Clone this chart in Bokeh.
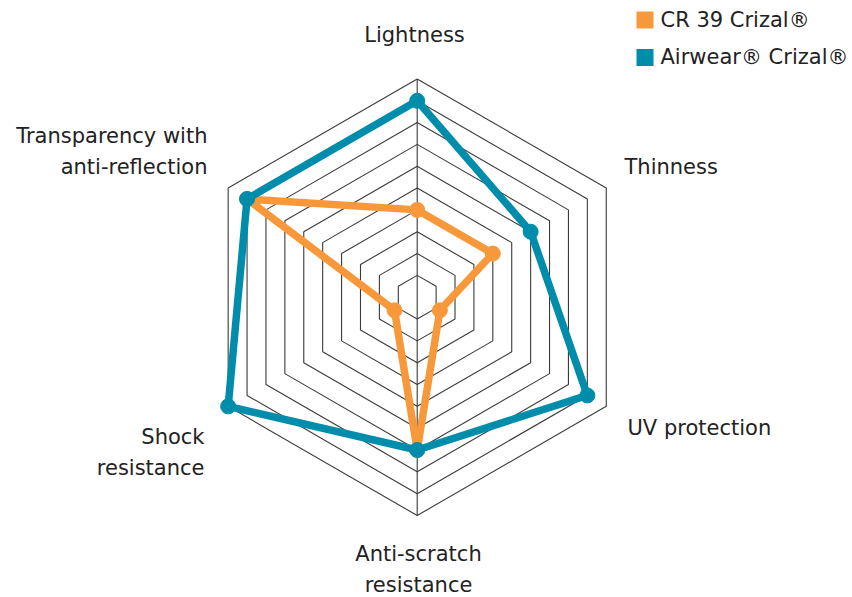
import math
from bokeh.plotting import figure
from bokeh.models import Range1d
from bokeh.core.properties import value
from bokeh.embed import file_html
from bokeh.resources import INLINE

# ---- data ----
axes_labels = ["Lightness", "Thinness", "UV protection", "Anti-scratch\nresistance",
               "Shock\nresistance", "Transparency with\nanti-reflection"]
cr39_values = [4, 4, 1.2, 7, 1.2, 9]
airwear_values = [9, 6, 9, 7, 10, 9]
series_names = ["CR 39 Crizal®", "Airwear® Crizal®"]
ring_levels = list(range(1, 11))

# ---- layout constants (screen pixels) ----
W, H = 852, 597
CX, CY = 416.7, 296.7           # centre in canvas px
UNIT = 21.83                     # px per ring

ORANGE = "#F7993B"
TEAL = "#008DAC"
GRID = "#3a3a3a"
FONT = "DejaVu Sans"
FSIZE = "21px"

p = figure(width=W, height=H, output_backend="svg", toolbar_location=None,
           x_range=Range1d(-CX / UNIT, (W - CX) / UNIT),
           y_range=Range1d(-(H - CY) / UNIT, CY / UNIT),
           min_border=0, outline_line_color=None)
p.axis.visible = False
p.grid.visible = False

angles = [math.radians(90 - 60 * i) for i in range(6)]

def pt(r, a):
    return r * math.cos(a), r * math.sin(a)

# hexagon rings
xs, ys = [], []
for lv in ring_levels:
    ring = [pt(lv, a) for a in angles] + [pt(lv, angles[0])]
    xs.append([q[0] for q in ring])
    ys.append([q[1] for q in ring])
p.multi_line(xs, ys, line_color=GRID, line_width=1.1)
# vertical spoke
top = max(ring_levels)
p.line([0, 0], [-top, top], line_color=GRID, line_width=1.1)

def draw_series(vals, color):
    pts = [pt(v, a) for v, a in zip(vals, angles)]
    x = [q[0] for q in pts] + [pts[0][0]]
    y = [q[1] for q in pts] + [pts[0][1]]
    p.line(x, y, line_color=color, line_width=7.5, line_join="round")
    p.scatter([q[0] for q in pts], [q[1] for q in pts], size=15,
              fill_color=color, line_color=color)

draw_series(cr39_values, ORANGE)
draw_series(airwear_values, TEAL)

# axis labels (positions in px relative to centre)
def px(dx, dy):
    return dx / UNIT, -dy / UNIT

label_specs = [
    (-2.7, -262.7, "center"),
    (207.3, -130.7, "left"),
    (210.3, 130.3, "left"),
    (1.3, 256.3, "center"),
    (-212.7, 139.3, "right"),
    (-209.7, -161.7, "right"),
]
LINE_H = 31
for lab, (dx, dy, al) in zip(axes_labels, label_specs):
    for k, line in enumerate(lab.split("\n")):
        x, y = px(dx, dy + k * LINE_H)
        p.text([x], [y], text=[line], text_font=value(FONT), text_font_size=FSIZE,
               text_align=al, text_baseline="middle", text_color="#222222")

# legend
for k, (name, color) in enumerate(zip(series_names, [ORANGE, TEAL])):
    sx, sy = px(644.5 - 416.7, 19.5 + 37.5 * k - 296.7)
    p.scatter([sx], [sy], marker="square", size=17, fill_color=color, line_color=None)
    tx, ty = px(660 - 416.7, 19 + 37.5 * k - 296.7)
    p.text([tx], [ty], text=[name], text_font=value(FONT), text_font_size=FSIZE,
           text_align="left", text_baseline="middle", text_color="#222222")

open("out.html", "w").write(file_html(p, INLINE))
